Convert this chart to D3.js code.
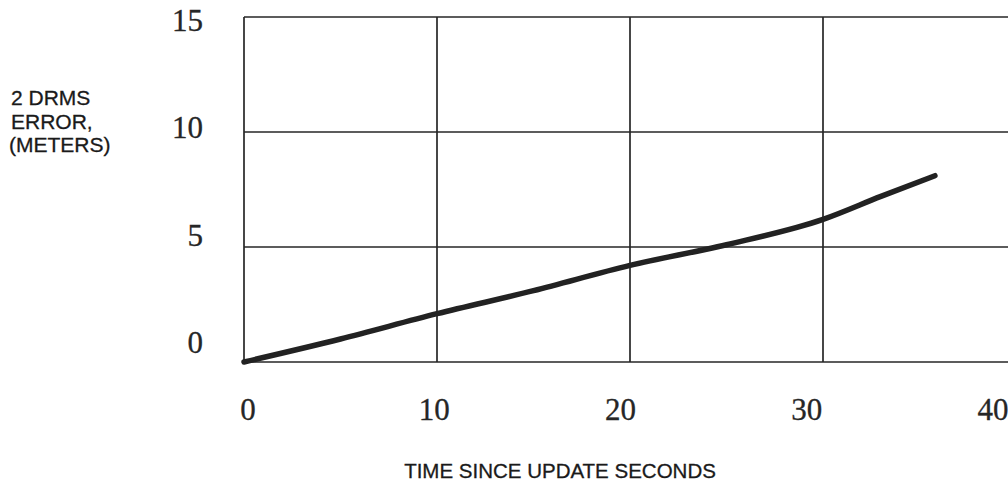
<!DOCTYPE html>
<html>
<head>
<meta charset="utf-8">
<script src="https://cdn.jsdelivr.net/npm/d3@7"></script>
<style>
  html, body { margin: 0; padding: 0; background: #fff; }
  svg { display: block; }
</style>
</head>
<body>
<svg id="chart"></svg>
<script>
// data
const times = [0, 5, 10, 15, 20, 25, 30, 33, 35.8];
const errors = [0, 1.0, 2.1, 3.1, 4.2, 5.1, 6.2, 7.2, 8.1];

const xTicks = [0, 10, 20, 30, 40];
const yTicks = [0, 5, 10, 15];
const xTickLabels = ['0', '10', '20', '30', '40'];
const yTickLabels = ['0', '5', '10', '15'];

const width = 1008, height = 482;

const svg = d3.select('#chart')
    .attr('width', width)
    .attr('height', height);

// grid scales
const x = d3.scaleLinear().domain([0, 40]).range([244, 1016]);
const y = d3.scaleLinear().domain([0, 15]).range([362, 17]);

// the printed numbers sit on their own spacing in the original
const xLab = d3.scaleLinear().domain([0, 40]).range([248, 993]);
const yLab = d3.scaleLinear().domain([0, 15]).range([342, 20]);

const ink = '#262626';

// vertical grid lines
svg.append('g')
    .selectAll('line')
    .data(xTicks)
    .enter()
    .append('line')
    .attr('x1', d => x(d))
    .attr('x2', d => x(d))
    .attr('y1', y(15))
    .attr('y2', y(0))
    .attr('stroke', ink)
    .attr('stroke-width', 1.7);

// horizontal grid lines
svg.append('g')
    .selectAll('line')
    .data(yTicks)
    .enter()
    .append('line')
    .attr('x1', x(0))
    .attr('x2', x(40))
    .attr('y1', d => y(d))
    .attr('y2', d => y(d))
    .attr('stroke', ink)
    .attr('stroke-width', 1.7);

// the curve
const line = d3.line()
    .x((d, i) => x(times[i]))
    .y(d => y(d))
    .curve(d3.curveMonotoneX);

svg.append('path')
    .datum(errors)
    .attr('d', line)
    .attr('fill', 'none')
    .attr('stroke', '#222')
    .attr('stroke-width', 5.5)
    .attr('stroke-linecap', 'round')
    .attr('stroke-linejoin', 'round');

// tick labels
svg.append('g')
    .selectAll('text')
    .data(xTicks)
    .enter()
    .append('text')
    .attr('x', d => xLab(d))
    .attr('y', 409)
    .attr('dy', '0.35em')
    .attr('text-anchor', 'middle')
    .style('font-family', '"Liberation Serif", serif')
    .style('font-size', '31px')
    .attr('fill', ink)
    .attr('stroke', ink)
    .attr('stroke-width', 0.3)
    .text((d, i) => xTickLabels[i]);

svg.append('g')
    .selectAll('text')
    .data(yTicks)
    .enter()
    .append('text')
    .attr('x', 203)
    .attr('y', d => yLab(d))
    .attr('dy', '0.35em')
    .attr('text-anchor', 'end')
    .style('font-family', '"Liberation Serif", serif')
    .style('font-size', '31px')
    .attr('fill', ink)
    .attr('stroke', ink)
    .attr('stroke-width', 0.3)
    .text((d, i) => yTickLabels[i]);

// axis titles
svg.append('text')
    .attr('x', 560)
    .attr('y', 478)
    .attr('text-anchor', 'middle')
    .style('font-family', '"Liberation Sans", Arial, sans-serif')
    .style('font-size', '20.5px')
    .attr('fill', '#1a1a1a')
    .attr('stroke', '#1a1a1a')
    .attr('stroke-width', 0.3)
    .text('TIME SINCE UPDATE SECONDS');

const yTitle = svg.append('text')
    .attr('x', 10)
    .attr('y', 105)
    .style('font-family', '"Liberation Sans", Arial, sans-serif')
    .style('font-size', '21px')
    .attr('fill', '#1a1a1a')
    .attr('stroke', '#1a1a1a')
    .attr('stroke-width', 0.3);

['2 DRMS', 'ERROR,', '(METERS)'].forEach((t, i) => {
    yTitle.append('tspan')
        .attr('x', i === 2 ? 9 : 11)
        .attr('dy', i === 0 ? 0 : 23.5)
        .text(t);
});
</script>
</body>
</html>
